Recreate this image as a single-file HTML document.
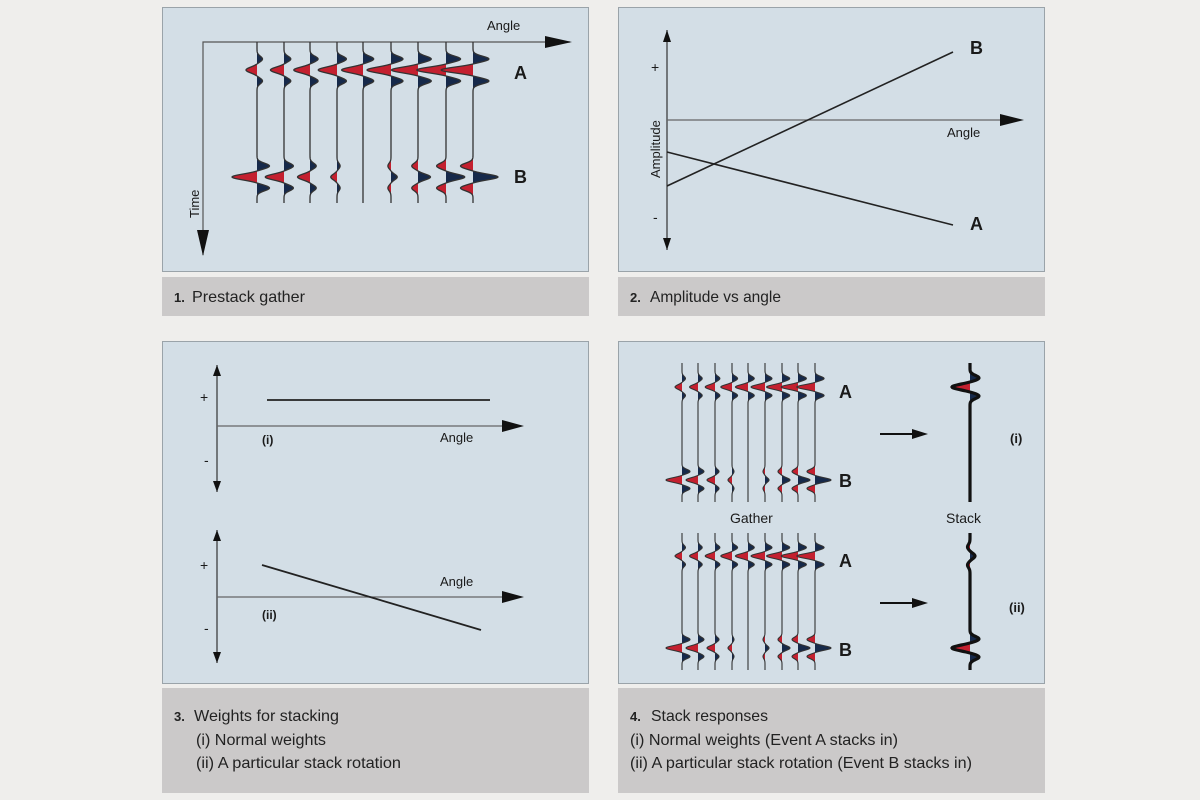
<!DOCTYPE html>
<html><head><meta charset="utf-8"><style>
body{margin:0;background:#efeeec;}
svg{display:block}
text{font-family:"Liberation Sans",sans-serif;fill:#1a1a1a}
.cap{font-family:"Liberation Sans Narrow","Liberation Sans",sans-serif;font-size:16px;fill:#222}
.num{font-family:"Liberation Sans",sans-serif;font-size:13px;font-weight:bold;fill:#222}
</style></head><body>
<svg id="s" width="1200" height="800" viewBox="0 0 1200 800" xmlns="http://www.w3.org/2000/svg">
<!-- panels -->
<rect x="162.5" y="7.5" width="426" height="264" fill="#d3dee6" stroke="#9aa3a9"/>
<rect x="162" y="277" width="427" height="39" fill="#cbc9c9"/>
<rect x="618.5" y="7.5" width="426" height="264" fill="#d3dee6" stroke="#9aa3a9"/>
<rect x="618" y="277" width="427" height="39" fill="#cbc9c9"/>
<rect x="162.5" y="341.5" width="426" height="342" fill="#d3dee6" stroke="#9aa3a9"/>
<rect x="162" y="688" width="427" height="105" fill="#cbc9c9"/>
<rect x="618.5" y="341.5" width="426" height="342" fill="#d3dee6" stroke="#9aa3a9"/>
<rect x="618" y="688" width="427" height="105" fill="#cbc9c9"/>

<!-- panel 1 axes -->
<polyline points="570,42 203,42 203,255" fill="none" stroke="#555" stroke-width="1.2"/>
<path d="M545,36 L572,42 L545,48 z" fill="#111"/>
<path d="M197,230 L203,256 L209,230 z" fill="#111"/>
<text x="487" y="30" font-size="13">Angle</text>
<text x="0" y="0" font-size="13" transform="translate(199,218) rotate(-90)">Time</text>
<text x="514" y="79" font-size="18" font-weight="bold">A</text>
<text x="514" y="183" font-size="18" font-weight="bold">B</text>
<g id="g1"></g>

<!-- panel 2 -->
<line x1="667" y1="30" x2="667" y2="250" stroke="#333" stroke-width="1.2"/>
<path d="M663,42 L667,30 L671,42 z" fill="#111"/><path d="M663,238 L667,250 L671,238 z" fill="#111"/>
<line x1="667" y1="120" x2="1020" y2="120" stroke="#666" stroke-width="1.2"/>
<path d="M1000,114 L1024,120 L1000,126 z" fill="#111"/>
<text x="651" y="72" font-size="14">+</text>
<text x="653" y="222" font-size="14">-</text>
<text x="0" y="0" font-size="13" transform="translate(660,178) rotate(-90)">Amplitude</text>
<text x="947" y="137" font-size="13">Angle</text>
<line x1="667" y1="186" x2="953" y2="52" stroke="#222" stroke-width="1.6"/>
<line x1="667" y1="152" x2="953" y2="225" stroke="#222" stroke-width="1.6"/>
<text x="970" y="54" font-size="18" font-weight="bold">B</text>
<text x="970" y="230" font-size="18" font-weight="bold">A</text>

<!-- panel 3 -->
<line x1="217" y1="365" x2="217" y2="492" stroke="#333" stroke-width="1.2"/>
<path d="M213,376 L217,365 L221,376 z" fill="#111"/><path d="M213,481 L217,492 L221,481 z" fill="#111"/>
<line x1="217" y1="426" x2="505" y2="426" stroke="#666" stroke-width="1.2"/>
<path d="M502,420 L524,426 L502,432 z" fill="#111"/>
<text x="200" y="402" font-size="14">+</text>
<text x="204" y="465" font-size="14">-</text>
<line x1="267" y1="400" x2="490" y2="400" stroke="#222" stroke-width="1.8"/>
<text x="262" y="444" font-size="12" font-weight="bold">(i)</text>
<text x="440" y="442" font-size="13">Angle</text>

<line x1="217" y1="530" x2="217" y2="663" stroke="#333" stroke-width="1.2"/>
<path d="M213,541 L217,530 L221,541 z" fill="#111"/><path d="M213,652 L217,663 L221,652 z" fill="#111"/>
<line x1="217" y1="597" x2="505" y2="597" stroke="#666" stroke-width="1.2"/>
<path d="M502,591 L524,597 L502,603 z" fill="#111"/>
<text x="200" y="570" font-size="14">+</text>
<text x="204" y="633" font-size="14">-</text>
<line x1="262" y1="565" x2="481" y2="630" stroke="#222" stroke-width="1.8"/>
<text x="262" y="619" font-size="12" font-weight="bold">(ii)</text>
<text x="440" y="586" font-size="13">Angle</text>

<!-- panel 4 -->
<g id="g4"></g>
<text x="839" y="398" font-size="18" font-weight="bold">A</text>
<text x="839" y="487" font-size="18" font-weight="bold">B</text>
<text x="839" y="567" font-size="18" font-weight="bold">A</text>
<text x="839" y="656" font-size="18" font-weight="bold">B</text>
<text x="730" y="523" font-size="14" fill="#333">Gather</text>
<text x="946" y="523" font-size="14" fill="#333">Stack</text>
<line x1="880" y1="434" x2="915" y2="434" stroke="#111" stroke-width="2"/>
<path d="M912,429 L928,434 L912,439 z" fill="#111"/>
<line x1="880" y1="603" x2="915" y2="603" stroke="#111" stroke-width="2"/>
<path d="M912,598 L928,603 L912,608 z" fill="#111"/>
<text x="1010" y="443" font-size="13" font-weight="bold">(i)</text>
<text x="1009" y="612" font-size="13" font-weight="bold">(ii)</text>

<!-- captions -->
<text class="num" x="174" y="302">1.</text><text class="cap" x="192" y="302" textLength="113" lengthAdjust="spacingAndGlyphs">Prestack gather</text>
<text class="num" x="630" y="302">2.</text><text class="cap" x="650" y="302" textLength="131" lengthAdjust="spacingAndGlyphs">Amplitude vs angle</text>
<text class="num" x="174" y="721">3.</text><text class="cap" x="194" y="721" textLength="145" lengthAdjust="spacingAndGlyphs">Weights for stacking</text>
<text class="cap" x="196" y="745" textLength="130" lengthAdjust="spacingAndGlyphs">(i) Normal weights</text>
<text class="cap" x="196" y="768" textLength="205" lengthAdjust="spacingAndGlyphs">(ii) A particular stack rotation</text>
<text class="num" x="630" y="721">4.</text><text class="cap" x="651" y="721" textLength="117" lengthAdjust="spacingAndGlyphs">Stack responses</text>
<text class="cap" x="630" y="745" textLength="268" lengthAdjust="spacingAndGlyphs">(i)  Normal weights (Event A stacks in)</text>
<text class="cap" x="630" y="768" textLength="342" lengthAdjust="spacingAndGlyphs">(ii) A particular stack rotation (Event B stacks in)</text>
</svg>
<script>
var NS="http://www.w3.org/2000/svg";
function wav(t,s,o){var g=function(u){return Math.exp(-(u*u)/(2*s*s));};return g(t)-0.5*g(t-o)-0.5*g(t+o);}
function trace(g,x0,y0,y1,ev,sw,col){
  var pts=[];
  for(var y=y0;y<=y1;y+=0.5){var d=0;for(var i=0;i<ev.length;i++)d+=ev[i].a*wav(y-ev[i].y,ev[i].s,ev[i].o);pts.push([x0-d,y]);}
  var red="M"+x0+","+y0,blue="M"+x0+","+y0,line="";
  pts.forEach(function(p,i){red+=" L"+Math.min(p[0],x0).toFixed(2)+","+p[1];blue+=" L"+Math.max(p[0],x0).toFixed(2)+","+p[1];line+=(i?" L":"M")+p[0].toFixed(2)+","+p[1];});
  red+=" L"+x0+","+y1+" z";blue+=" L"+x0+","+y1+" z";
  [[red,"#c4202f"],[blue,"#16294a"]].forEach(function(q){var e=document.createElementNS(NS,"path");e.setAttribute("d",q[0]);e.setAttribute("fill",q[1]);g.appendChild(e);});
  var l=document.createElementNS(NS,"path");l.setAttribute("d",line);l.setAttribute("fill","none");l.setAttribute("stroke",col||"#333");l.setAttribute("stroke-width",sw||1.2);g.appendChild(l);
}
var g1=document.getElementById("g1");
var xs1=[257,284,310,337,363,391,418,446,473];
xs1.forEach(function(x,i){
  var aA=11+i*2.6, aB=25*(1-i/4);
  trace(g1,x,42,203,[{y:70,a:aA,s:2.8,o:11},{y:177,a:aB,s:2.8,o:11}],1.3);
});
var g4=document.getElementById("g4");
var xs4=[682,698,715,732,748,765,782,798,815];
[[363,502,387,480],[533,670,556,648]].forEach(function(r){
  xs4.forEach(function(x,i){
    trace(g4,x,r[0],r[1],[{y:r[2],a:7+i*1.4,s:2.2,o:8.5},{y:r[3],a:16*(1-i/4),s:2.2,o:8.5}],1.1);
  });
});
trace(g4,970,363,502,[{y:387,a:18,s:2.6,o:9}],3.2,"#111");
trace(g4,970,533,670,[{y:556,a:-5,s:2.6,o:9},{y:648,a:18,s:2.6,o:9}],3.2,"#111");
</script>
</body></html>
